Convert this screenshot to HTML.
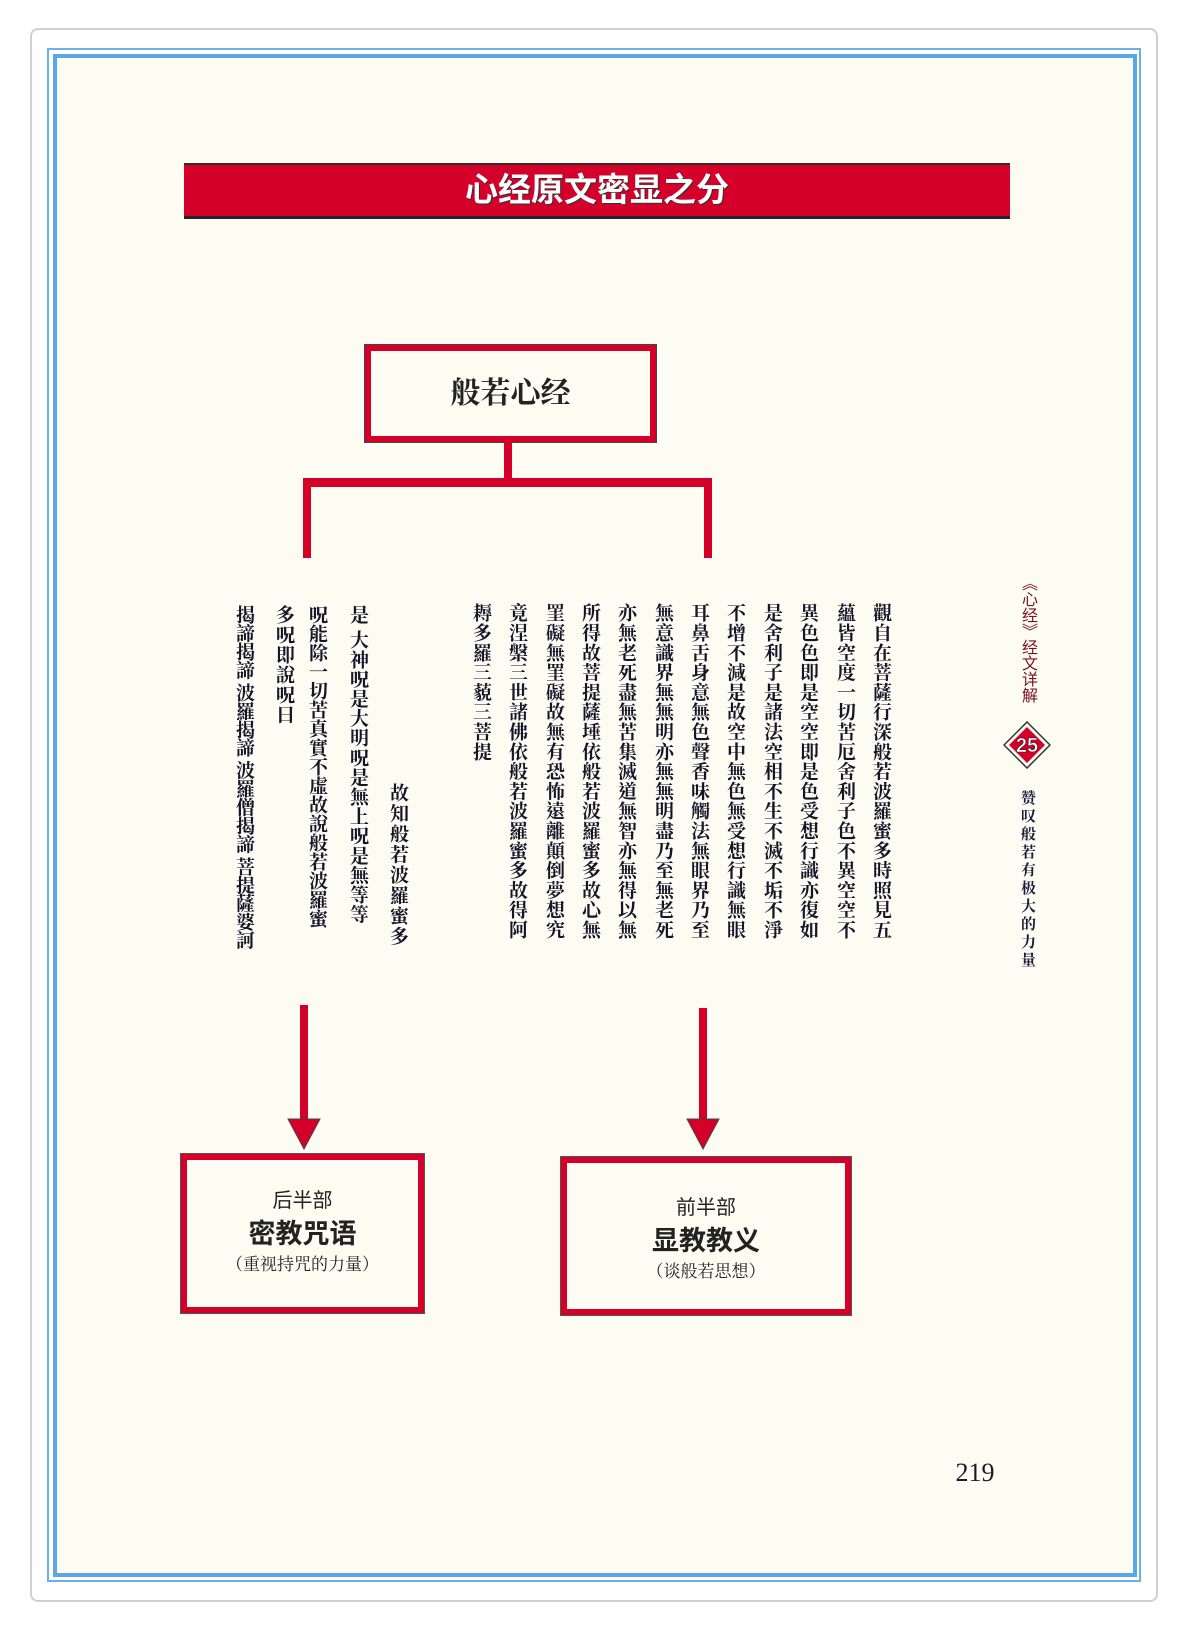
<!DOCTYPE html>
<html><head><meta charset="utf-8">
<style>
*{margin:0;padding:0;box-sizing:border-box}
body{width:1188px;height:1631px;background:#fff;position:relative;overflow:hidden;font-family:"Liberation Serif","Noto Serif CJK SC",serif}
.a{position:absolute}
.v{position:absolute;writing-mode:vertical-rl;font-family:"Liberation Serif","Noto Serif CJK TC","Noto Serif CJK SC",serif;font-weight:bold;color:#15152a;font-size:19px;line-height:21px;white-space:nowrap;transform:translateX(-10px)}
.r{background:#d4002a}
</style></head><body>
<div class="a" style="left:30px;top:28px;width:1128px;height:1574px;border:2px solid #d0d0d0;border-radius:8px;background:#fff"></div>
<div class="a" style="left:47px;top:48px;width:1094px;height:1534px;border:2px solid #6ab0ea"></div>
<div class="a" style="left:53px;top:54px;width:1084px;height:1523px;border:4px solid #5aa6e6;background:#fcfcf3"></div>

<div class="a r" style="left:184px;top:163px;width:826px;height:56px;border-top:2px solid #3a2a2a;border-bottom:3px solid #2a2030;color:#fff;font:bold 33px/50px 'Liberation Sans','Noto Sans CJK SC',sans-serif;text-align:center;text-shadow:1px 1px 0 #333">心经原文密显之分</div>

<div class="a" style="left:365px;top:345px;width:291px;height:97px;border:6px solid #d4002a;outline:1px solid #444;background:#fcfcf3;text-align:center;font:bold 30px/85px 'Liberation Serif','Noto Serif CJK SC',serif;color:#222">般若心经</div>
<div class="a r" style="left:504px;top:442px;width:8px;height:42px"></div>
<div class="a r" style="left:303px;top:478px;width:409px;height:9px"></div>
<div class="a r" style="left:303px;top:478px;width:8px;height:80px"></div>
<div class="a r" style="left:704px;top:478px;width:8px;height:80px"></div>

<div class="v" style="left:880px;top:603px;letter-spacing:0.8px">觀自在菩薩行深般若波羅蜜多時照見五</div>
<div class="v" style="left:844px;top:603px;letter-spacing:0.8px">蘊皆空度一切苦厄舍利子色不異空空不</div>
<div class="v" style="left:807px;top:603px;letter-spacing:0.8px">異色色即是空空即是色受想行識亦復如</div>
<div class="v" style="left:771px;top:603px;letter-spacing:0.8px">是舍利子是諸法空相不生不滅不垢不淨</div>
<div class="v" style="left:734px;top:603px;letter-spacing:0.8px">不增不減是故空中無色無受想行識無眼</div>
<div class="v" style="left:698px;top:603px;letter-spacing:0.8px">耳鼻舌身意無色聲香味觸法無眼界乃至</div>
<div class="v" style="left:662px;top:603px;letter-spacing:0.8px">無意識界無無明亦無無明盡乃至無老死</div>
<div class="v" style="left:625px;top:603px;letter-spacing:0.8px">亦無老死盡無苦集滅道無智亦無得以無</div>
<div class="v" style="left:589px;top:603px;letter-spacing:0.8px">所得故菩提薩埵依般若波羅蜜多故心無</div>
<div class="v" style="left:553px;top:603px;letter-spacing:0.8px">罣礙無罣礙故無有恐怖遠離顛倒夢想究</div>
<div class="v" style="left:516px;top:603px;letter-spacing:0.8px">竟涅槃三世諸佛依般若波羅蜜多故得阿</div>
<div class="v" style="left:480px;top:603px;letter-spacing:0.8px">耨多羅三藐三菩提</div>

<div class="v" style="left:397px;top:783px;letter-spacing:1.5px">故知般若波羅蜜多</div>
<div class="v" style="left:357px;top:605px;letter-spacing:0.6px">是 大神呪是大明呪是無上呪是無等等</div>
<div class="v" style="left:316px;top:605px;letter-spacing:0px">呪能除一切苦真實不虛故說般若波羅蜜</div>
<div class="v" style="left:283px;top:605px;letter-spacing:1px">多呪即說呪曰</div>
<div class="v" style="left:243px;top:605px;letter-spacing:-0.6px">揭諦揭諦 波羅揭諦 波羅僧揭諦 菩提薩婆訶</div>

<div class="a r" style="left:300px;top:1005px;width:8px;height:118px"></div>
<svg class="a" style="left:286px;top:1118px" width="36" height="32"><polygon points="2,1 34,1 18,31" fill="#d4002a" stroke="#444" stroke-width="1"/></svg>
<div class="a r" style="left:699px;top:1008px;width:8px;height:115px"></div>
<svg class="a" style="left:685px;top:1118px" width="36" height="32"><polygon points="2,1 34,1 18,31" fill="#d4002a" stroke="#444" stroke-width="1"/></svg>

<div class="a" style="left:181px;top:1154px;width:243px;height:159px;border:6px solid #d4002a;outline:1px solid #555;text-align:center;font-family:'Liberation Sans','Noto Sans CJK SC',sans-serif;color:#222">
<div style="font-size:20px;margin-top:30px;line-height:22px">后半部</div>
<div style="font-size:27px;font-weight:bold;line-height:34px;margin-top:5px">密教咒语</div>
<div style="font-size:17px;line-height:22px;margin-top:3px;font-family:'Liberation Serif','Noto Serif CJK SC',serif">（重视持咒的力量）</div>
</div>
<div class="a" style="left:561px;top:1157px;width:290px;height:158px;border:6px solid #d4002a;outline:1px solid #555;text-align:center;font-family:'Liberation Sans','Noto Sans CJK SC',sans-serif;color:#222">
<div style="font-size:20px;margin-top:34px;line-height:22px">前半部</div>
<div style="font-size:27px;font-weight:bold;line-height:34px;margin-top:5px">显教教义</div>
<div style="font-size:17px;line-height:22px;margin-top:3px;font-family:'Liberation Serif','Noto Serif CJK SC',serif">（谈般若思想）</div>
</div>

<div class="v" style="left:1028px;top:575px;font-weight:normal;font-size:16px;line-height:18px;color:#7a1020;font-family:'Liberation Sans','Noto Sans CJK SC',sans-serif">《心经》经文详解</div>
<svg class="a" style="left:1003px;top:721px" width="48" height="48"><polygon points="24,1 47,24 24,47 1,24" fill="none" stroke="#333" stroke-width="1.5"/><polygon points="24,6 42,24 24,42 6,24" fill="#d4002a"/><text x="24" y="31" text-anchor="middle" font-family="Liberation Sans" font-weight="bold" font-size="20" fill="#fff" stroke="#222" stroke-width="0.6">25</text></svg>
<div class="v" style="left:1028px;top:790px;font-size:15px;line-height:18px;letter-spacing:3px;color:#1a1a3a">赞叹般若有极大的力量</div>

<div class="a" style="left:940px;top:1458px;width:70px;text-align:center;font:26px 'Liberation Serif',serif;color:#1a1a2a">219</div>
</body></html>
